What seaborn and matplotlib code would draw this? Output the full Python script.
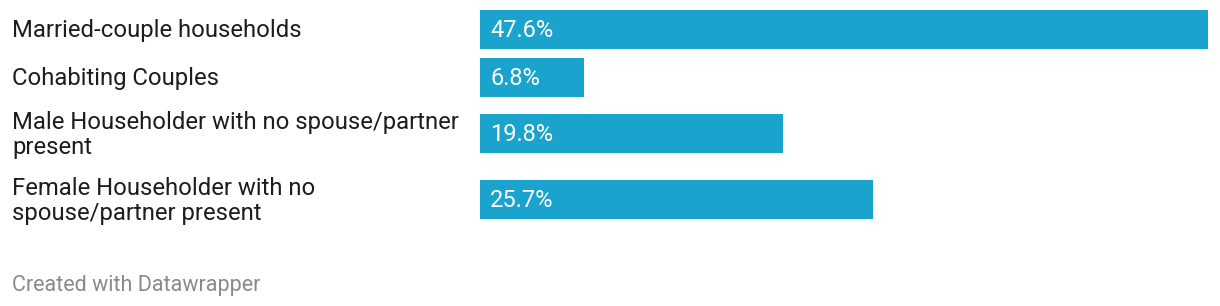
import matplotlib
matplotlib.use("Agg")
import matplotlib.pyplot as plt
import seaborn as sns
import pandas as pd

categories = [
    "Married-couple households",
    "Cohabiting Couples",
    "Male Householder with no spouse/partner\npresent",
    "Female Householder with no\nspouse/partner present",
]
values = [47.6, 6.8, 19.8, 25.7]
footer = "Created with Datawrapper"

BAR = "#1aa3cd"
TEXT = "#1d1d1d"
W, H = 1220, 306

sns.set_theme(style="white")
plt.rcParams["font.family"] = ["Roboto", "DejaVu Sans"]

fig = plt.figure(figsize=(W / 100, H / 100), dpi=100)
fig.patch.set_facecolor("white")

row_tops = [10, 58, 114, 180]
bar_h = 39
x0, x1 = 480, 1208
xmax = max(values)

for cat, val, top in zip(categories, values, row_tops):
    ax = fig.add_axes([x0 / W, 1 - (top + bar_h) / H, (x1 - x0) / W, bar_h / H])
    df = pd.DataFrame({"cat": [cat], "val": [val]})
    sns.barplot(data=df, x="val", y="cat", color=BAR, width=1.0, ax=ax,
                saturation=1, edgecolor="none")
    ax.set_xlim(0, xmax)
    ax.set_ylim(0.5, -0.5)
    ax.axis("off")
    ax.annotate(f"{val:.1f}%", xy=(0, 0), xycoords="data",
                xytext=(10 * 0.72, -1 * 0.72), textcoords="offset points",
                va="center", ha="left", color="white", fontsize=17)
    fig.text(12 / W, 1 - (top + bar_h / 2 + 1.5) / H, cat, ha="left", va="center",
             fontsize=17.2, color=TEXT, linespacing=1.15)

fig.text(12 / W, 1 - 285.5 / H, footer, ha="left", va="center",
         fontsize=15.5, color="#8a8a8a")

fig.savefig("out.png", dpi=100, facecolor="white")
